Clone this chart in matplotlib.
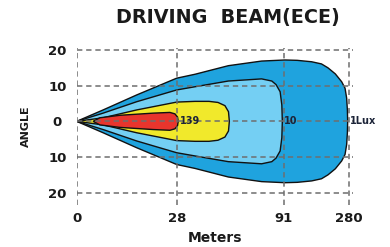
import numpy as np
import matplotlib.pyplot as plt

# Chart text
title = 'DRIVING  BEAM(ECE)'
x_label = 'Meters'
y_label = 'ANGLE'

# Axis ticks
x_ticks = [0, 28, 91, 280]
x_tick_labels = ['0', '28', '91', '280']
y_ticks = [20, 10, 0, -10, -20]
y_tick_labels = ['20', '10', '0', '10', '20']

# upper half of each isolux outline: distance (m) and angle (deg); beam is symmetric
lux1_m = [0, 7.4, 16.8, 28, 38.8, 58.4, 78, 94.8, 130, 171.8, 200, 218.8, 240, 258.3, 268, 272.7, 274.8, 275.6]
lux1_deg = [0, 3.2, 7.4, 12.1, 13.2, 15.6, 16.9, 17.2, 17.1, 16.7, 16.1, 15.0, 13.3, 11.1, 9.3, 6.5, 3.2, 0]

lux10_m = [0, 7.4, 16.8, 28, 38.8, 58.4, 78, 84, 86.5, 88.9, 89.9, 90.2]
lux10_deg = [0, 2.3, 5.5, 8.8, 9.7, 11.3, 11.9, 11.3, 10.3, 8.3, 4.6, 0]

yellow_m = [0, 7.4, 16.8, 28, 38.8, 47, 52.3, 56.4, 58.5, 59.0]
yellow_deg = [0, 1.0, 3.2, 5.4, 5.6, 5.6, 5.3, 4.4, 2.7, 0]

red_m = [4.6, 6.5, 12.1, 21.4, 26.1, 27.5, 28.5, 28.9]
red_deg = [0, 1.0, 1.7, 2.3, 2.5, 2.1, 1.2, 0]

zone_labels = ['1Lux', '10', '139']

# horizontal spacing of the distance ticks (the axis is not linear)
knots = [0, 100, 207, 272.5]


def fwd(m):
    m = np.asarray(m, float)
    p = np.interp(m, x_ticks, knots)
    hi = knots[-1] + (m - x_ticks[-1]) * (knots[-1] - knots[-2]) / (x_ticks[-1] - x_ticks[-2])
    lo = m * knots[1] / x_ticks[1]
    return np.where(m > x_ticks[-1], hi, np.where(m < 0, lo, p))


def inv(p):
    p = np.asarray(p, float)
    m = np.interp(p, knots, x_ticks)
    hi = x_ticks[-1] + (p - knots[-1]) * (x_ticks[-1] - x_ticks[-2]) / (knots[-1] - knots[-2])
    lo = p * x_ticks[1] / knots[1]
    return np.where(p > knots[-1], hi, np.where(p < 0, lo, m))


def mirror(m, d):
    xs = list(m) + list(m[::-1])
    ys = list(d) + [-v for v in d[::-1]]
    return xs, ys


fig = plt.figure(figsize=(3.9, 2.47), dpi=100)
ax = fig.add_axes([76.7 / 390, 42 / 247, 276.3 / 390, 157 / 247])
ax.set_xscale('function', functions=(fwd, inv))

shapes = [
    (lux1_m, lux1_deg, '#1fa3de'),
    (lux10_m, lux10_deg, '#74cff3'),
    (yellow_m, yellow_deg, '#f1e92b'),
    (red_m, red_deg, '#e8352d'),
]
for m, d, c in shapes:
    xs, ys = mirror(m, d)
    ax.fill(xs, ys, facecolor=c, edgecolor='#111111', linewidth=1.0, zorder=1)

# zone labels at the tip of each outline
for m, lab in zip([lux1_m, lux10_m, red_m], zone_labels):
    ax.annotate(lab, (m[-1], 0), xytext=(1.5, 0), textcoords='offset points',
                ha='left', va='center', fontsize=7, fontweight='bold',
                color='#1c2438', zorder=4, annotation_clip=False)

ax.set_xlim(0, 291)
ax.set_ylim(-23.45, 20.56)
ax.set_xticks(x_ticks)
ax.set_xticklabels(x_tick_labels)
ax.set_yticks(y_ticks)
ax.set_yticklabels(y_tick_labels)
ax.tick_params(length=0, labelsize=9.5, colors='#1a1a1a')
ax.tick_params(axis='x', pad=5)
ax.tick_params(axis='y', pad=14)
for lbl in ax.get_xticklabels() + ax.get_yticklabels():
    lbl.set_fontweight('bold')
for lbl in ax.get_yticklabels():
    lbl.set_ha('center')

ax.set_axisbelow(False)
ax.grid(True, color='#6e6e6e', linestyle=(0, (3.5, 2.5)), linewidth=1.1)
for s in ax.spines.values():
    s.set_visible(False)

ax.set_xlabel(x_label, fontsize=10, fontweight='bold', color='#1a1a1a', labelpad=4)
fig.text(26 / 390, 1 - 126 / 247, y_label, rotation=90, ha='center', va='center',
         fontsize=8, fontweight='bold', color='#1a1a1a')
fig.text(228 / 390, 1 - 18 / 247, title, ha='center', va='center',
         fontsize=13.8, fontweight='bold', color='#1a1a1a')

fig.savefig('out.png', dpi=100)
